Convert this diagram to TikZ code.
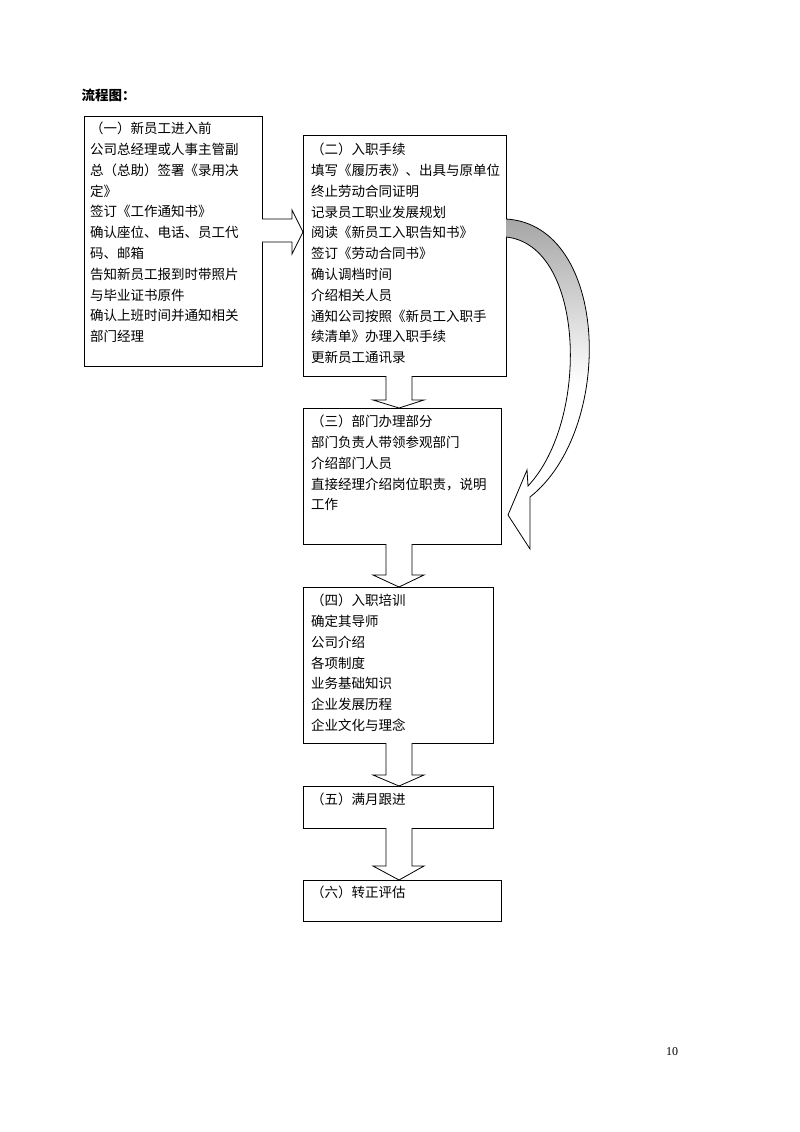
\documentclass[tikz,border=0pt]{standalone}
\usepackage{fontspec}
\newfontfamily\cjk{Noto Sans CJK SC}
\setmainfont{Liberation Serif}
\begin{document}
\begin{tikzpicture}[x=1pt,y=-1pt,
  box/.style={draw,line width=1pt,anchor=north west,inner sep=0},
  txt/.style={anchor=north west,align=left,inner sep=0,font=\cjk\fontsize{13.5}{20.8}\selectfont},
  blk/.style={draw,line width=0.8pt,fill=white}]
\useasboundingbox (0,0) rectangle (800,1132);
\node[anchor=west,font=\cjk\bfseries\fontsize{13.5}{16}\selectfont] (title) at (78,95) {流程图：};
\node[box,minimum width=178,minimum height=250] (b1) at (84,116) {};
\node[box,minimum width=203,minimum height=241] (b2) at (303,135) {};
\node[box,minimum width=198,minimum height=136] (b3) at (303,408) {};
\node[box,minimum width=190,minimum height=156] (b4) at (303,587) {};
\node[box,minimum width=190,minimum height=42] (b5) at (303,786) {};
\node[box,minimum width=198,minimum height=41] (b6) at (303,880) {};
\node[txt] (t1) at (90,122) {（一）新员工进入前\\公司总经理或人事主管副\\总（总助）签署《录用决\\定》\\签订《工作通知书》\\确认座位、电话、员工代\\码、邮箱\\告知新员工报到时带照片\\与毕业证书原件\\确认上班时间并通知相关\\部门经理};
\node[txt] (t2) at (311,143) {（二）入职手续\\填写《履历表》、出具与原单位\\终止劳动合同证明\\记录员工职业发展规划\\阅读《新员工入职告知书》\\签订《劳动合同书》\\确认调档时间\\介绍相关人员\\通知公司按照《新员工入职手\\续清单》办理入职手续\\更新员工通讯录};
\node[txt] (t3) at (311,415) {（三）部门办理部分\\部门负责人带领参观部门\\介绍部门人员\\直接经理介绍岗位职责，说明\\工作};
\node[txt] (t4) at (311,594) {（四）入职培训\\确定其导师\\公司介绍\\各项制度\\业务基础知识\\企业发展历程\\企业文化与理念};
\node[txt] (t5) at (311,793) {（五）满月跟进};
\node[txt] (t6) at (311,886) {（六）转正评估};
\node[font=\fontsize{12}{14}\selectfont] (pg) at (672,1052) {10};
% right block arrow
\draw[blk] (262,219) -- (292,219) -- (292,210) -- (b2.west |- 0,232) -- (292,254) -- (292,242) -- (262,242);
% down block arrows
\foreach \a/\b/\h in {376/408/400, 544/587/575, 743/786/775, 828/880/866}{
  \draw[blk] (386,\a) -- (386,\h) -- (373,\h) -- (399,\b) -- (424,\h) -- (412,\h) -- (412,\a);
}
% curved arrow
\draw[line width=0.8pt,top color=gray!70,bottom color=white,middle color=white]
  (506,219) .. controls (610,225) and (615,430) .. (530,497)
  -- (530,549) -- (508,515) -- (527,470) -- (528,486)
  .. controls (590,420) and (585,245) .. (506,237);
\end{tikzpicture}
\end{document}
